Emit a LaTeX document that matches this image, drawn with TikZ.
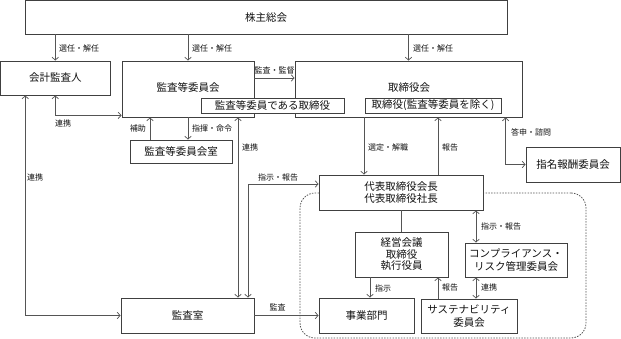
\documentclass[tikz,border=0pt]{standalone}
\usepackage{fontspec}
\setmainfont{Noto Sans CJK JP}
\usetikzlibrary{arrows.meta}
\definecolor{boxc}{HTML}{404040}
\definecolor{linec}{HTML}{555555}
\definecolor{txt}{HTML}{111111}
\definecolor{dashc}{HTML}{555555}
\begin{document}
\begin{tikzpicture}[x=1pt,y=-1pt,
  box/.style={draw=boxc, line width=0.8pt, fill=white, inner sep=0pt, text=txt,
    font=\fontsize{10.5}{12.5}\selectfont, align=center},
  lab/.style={font=\fontsize{8}{9}\selectfont, text=txt, inner sep=0pt},
  con/.style={draw=linec, line width=0.7pt},
  arr/.style={con, -{Straight Barb[length=3pt,width=6.5pt]}},
  darr/.style={con, {Straight Barb[length=3pt,width=6.5pt]}-{Straight Barb[length=3pt,width=6.5pt]}},
  grpbox/.style={draw=dashc, line width=0.8pt, dash pattern=on 1.5pt off 1.3pt, rounded corners=15pt, inner sep=0pt}
]
\useasboundingbox (0,0) rectangle (621,339);
% group frame
\node[grpbox, minimum width=286pt, minimum height=145pt] (grp) at (443,265.5) {};
% boxes
\node[box, minimum width=482pt, minimum height=33.5pt] (kabu) at (266,17.25) {株主総会};
\node[box, minimum width=109.5pt, minimum height=34pt] (kaikei) at (55.25,78) {会計監査人};
\node[box, minimum width=132pt, minimum height=56pt] (kansaiin) at (188,89) {};
\node[text=txt, font=\fontsize{10.5}{12.5}\selectfont, inner sep=0pt] (kansaiinT) at (188,88) {監査等委員会};
\node[box, minimum width=227pt, minimum height=56pt] (tori) at (408.5,89) {};
\node[text=txt, font=\fontsize{10.5}{12.5}\selectfont, inner sep=0pt] (toriT) at (409,88) {取締役会};
\node[box, minimum width=143pt, minimum height=15pt] (in1) at (272.5,105.5) {監査等委員である取締役};
\node[box, minimum width=136pt, minimum height=15pt] (in2) at (433,105.5) {取締役(監査等委員を除く)};
\node[box, minimum width=102pt, minimum height=23pt] (shitsu) at (181,151.5) {監査等委員会室};
\node[box, minimum width=94pt, minimum height=35pt] (shimei) at (573,164.5) {指名報酬委員会};
\node[box, minimum width=164pt, minimum height=35pt] (daihyo) at (401,192.5) {代表取締役会長\\代表取締役社長};
\node[box, minimum width=93pt, minimum height=45pt, font=\fontsize{10.5}{11.5}\selectfont] (keiei) at (401.5,254.5) {経営会議\\取締役\\執行役員};
\node[box, minimum width=102pt, minimum height=34pt] (compl) at (516,260) {コンプライアンス・\\リスク管理委員会};
\node[box, minimum width=133pt, minimum height=35pt] (kansa) at (187.5,315.5) {監査室};
\node[box, minimum width=95pt, minimum height=35pt] (jigyo) at (366.5,315.5) {事業部門};
\node[box, minimum width=96pt, minimum height=34pt] (sus) at (469,316) {サステナビリティ\\委員会};
% connectors
\draw[arr] (kabu.south -| kaikei.north) -- (kaikei.north);
\draw[arr] (kabu.south -| kansaiin.north) -- (kansaiin.north);
\draw[arr] (kabu.south -| tori.north) -- (tori.north);
\draw[arr] ([yshift=11pt]kansaiin.east) -- ([yshift=11pt]tori.west);
\draw[darr] (kaikei.south) |- ([yshift=2pt]kansaiin.south west);
\draw[darr] ([xshift=-30pt]kaikei.south) |- (kansa.west);
\draw[arr] ([xshift=-31pt]shitsu.north) -- ([xshift=-31pt]shitsu.north |- kansaiin.south);
\draw[arr] (kansaiin.south) -- (kansaiin.south |- shitsu.north);
\draw[darr] ([xshift=50pt]kansaiin.south) -- ([xshift=50pt]kansaiin.south |- kansa.north);
\draw[darr] ([xshift=60.5pt]kansa.north) |- ([yshift=8.5pt]daihyo.west);
\draw[arr] ([xshift=-37pt]daihyo.north |- tori.south) -- ([xshift=-37pt]daihyo.north);
\draw[arr] ([xshift=37pt]daihyo.north) -- ([xshift=37pt]daihyo.north |- tori.south);
\draw[darr] ([xshift=-20pt]shimei.west |- tori.south) |- (shimei.west);
\draw[con] (daihyo.south) -- (daihyo.south |- keiei.north);
\draw[arr] ([xshift=-31.5pt]keiei.south) -- ([xshift=-31.5pt]keiei.south |- jigyo.north);
\draw[arr] ([xshift=-31pt]sus.north) -- ([xshift=-31pt]sus.north |- keiei.south);
\draw[darr] ([xshift=-40pt]compl.north) -- ([xshift=-40pt]compl.north |- daihyo.south);
\draw[darr] ([xshift=-40pt]compl.south) -- ([xshift=-40pt]compl.south |- sus.north);
\draw[arr] (kansa.east) -- (jigyo.west);
% labels
\node[lab, anchor=west] (l1) at (59,48) {選任・解任};
\node[lab, anchor=west] (l2) at (192,48) {選任・解任};
\node[lab, anchor=west] (l3) at (413,48) {選任・解任};
\node[lab] (l4) at (274.5,70) {監査・監督};
\node[lab, anchor=west] (l5) at (55,123) {連携};
\node[lab, anchor=west] (l6) at (27,177) {連携};
\node[lab, anchor=east] (l7) at (146,128) {補助};
\node[lab, anchor=west] (l8) at (192,128) {指揮・命令};
\node[lab, anchor=west] (l9) at (242,147) {連携};
\node[lab, anchor=west] (l10) at (258,177) {指示・報告};
\node[lab, anchor=west] (l11) at (368,147) {選定・解職};
\node[lab, anchor=west] (l12) at (442,147) {報告};
\node[lab, anchor=west] (l13) at (511,132) {答申・諮問};
\node[lab] (l14) at (277.5,307) {監査};
\node[lab, anchor=west] (l15) at (375,288) {指示};
\node[lab, anchor=west] (l16) at (481,226) {指示・報告};
\node[lab, anchor=west] (l17) at (442,287) {報告};
\node[lab, anchor=west] (l18) at (481,287) {連携};
\end{tikzpicture}
\end{document}
